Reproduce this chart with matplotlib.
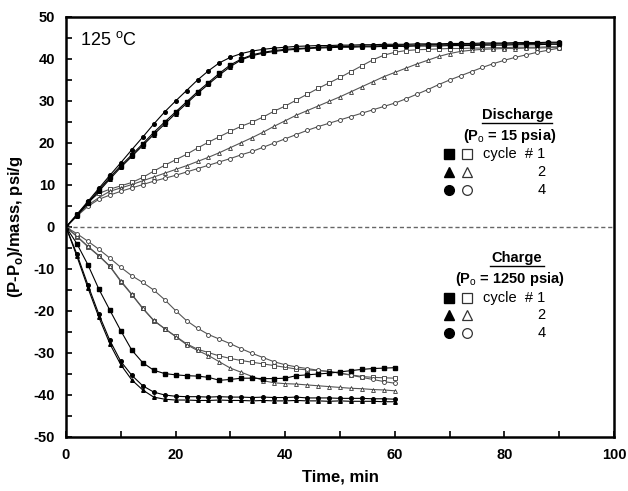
import numpy as np
import matplotlib
matplotlib.use("Agg")
import matplotlib.pyplot as plt

plt.rcParams['font.family'] = ['Liberation Sans', 'DejaVu Sans']
plt.rcParams['mathtext.fontset'] = 'custom'
plt.rcParams['mathtext.rm'] = 'Liberation Sans'
plt.rcParams['mathtext.bf'] = 'Liberation Sans:bold'
plt.rcParams['axes.unicode_minus'] = False

# time grids (min)
t_dis = np.arange(0, 91, 2)
t_chg = np.arange(0, 61, 2)

# discharge (P_o = 15 psia)
dis_fill_circle = [0, 3.0, 6.1, 9.2, 12.3, 15.3, 18.4, 21.4, 24.5, 27.4, 30.0, 32.5, 35.0, 37.2, 39.1, 40.4,
                   41.3, 41.9, 42.3, 42.6, 42.8, 43.0, 43.1, 43.2, 43.2, 43.3, 43.3, 43.4, 43.4, 43.5, 43.5,
                   43.5, 43.6, 43.6, 43.6, 43.7, 43.7, 43.7, 43.8, 43.8, 43.8, 43.9, 43.9, 43.9, 44.0, 44.0]
dis_fill_square = [0, 2.8, 5.8, 8.8, 11.8, 14.6, 17.2, 19.8, 22.5, 25.0, 27.4, 29.8, 32.2, 34.4, 36.6, 38.6,
                   40.0, 41.0, 41.6, 42.0, 42.3, 42.5, 42.6, 42.8, 42.9, 43.0, 43.0, 43.1, 43.1, 43.2, 43.2,
                   43.3, 43.3, 43.4, 43.4, 43.4, 43.5, 43.5, 43.5, 43.6, 43.6, 43.6, 43.7, 43.7, 43.8, 43.8]
dis_fill_tri = [0, 2.7, 5.6, 8.5, 11.4, 14.2, 16.8, 19.4, 22.0, 24.5, 27.0, 29.4, 31.8, 34.0, 36.2, 38.2,
                39.8, 40.8, 41.4, 41.8, 42.1, 42.3, 42.5, 42.6, 42.7, 42.8, 42.8, 42.9, 42.9, 43.0, 43.0,
                43.0, 43.1, 43.1, 43.1, 43.2, 43.2, 43.2, 43.3, 43.3, 43.3, 43.4, 43.4, 43.4, 43.5, 43.5]
dis_open_square = [0, 3.0, 6.0, 8.0, 9.0, 9.8, 10.6, 11.8, 13.3, 14.7, 16.0, 17.3, 18.8, 20.2, 21.5, 22.8,
                   24.0, 25.0, 26.2, 27.6, 28.8, 30.2, 31.6, 33.0, 34.3, 35.6, 37.0, 38.4, 39.8, 40.9, 41.6,
                   42.0, 42.2, 42.3, 42.4, 42.5, 42.5, 42.6, 42.6, 42.7, 42.7, 42.8, 42.8, 42.8, 42.9, 42.9]
dis_open_tri = [0, 2.8, 5.2, 7.0, 8.5, 9.3, 10.1, 11.0, 11.9, 12.8, 13.7, 14.6, 15.6, 16.6, 17.7, 18.9,
                20.1, 21.3, 22.6, 24.0, 25.3, 26.6, 27.7, 28.8, 29.9, 31.0, 32.2, 33.4, 34.6, 35.8, 36.8,
                37.8, 38.8, 39.7, 40.6, 41.3, 41.8, 42.1, 42.3, 42.4, 42.5, 42.5, 42.6, 42.6, 42.7, 42.7]
dis_open_circle = [0, 2.6, 4.9, 6.6, 7.6, 8.5, 9.3, 10.1, 10.9, 11.6, 12.3, 13.1, 13.9, 14.7, 15.5, 16.3,
                   17.2, 18.0, 19.0, 20.0, 21.0, 22.0, 23.0, 23.9, 24.7, 25.5, 26.3, 27.1, 27.9, 28.7, 29.5,
                   30.5, 31.6, 32.7, 33.9, 35.0, 36.0, 37.0, 38.0, 38.9, 39.7, 40.4, 41.0, 41.6, 42.1, 42.6]

# charge (P_o = 1250 psia)
chg_fill_tri = [0, -7.0, -14.5, -21.5, -27.8, -32.8, -36.4, -38.8, -40.5, -41.0, -41.2, -41.2, -41.3, -41.3,
                -41.2, -41.3, -41.3, -41.4, -41.3, -41.4, -41.4, -41.3, -41.4, -41.4, -41.5, -41.4, -41.5,
                -41.5, -41.5, -41.6, -41.6]
chg_fill_circle = [0, -6.5, -13.8, -20.8, -27.0, -32.0, -35.3, -37.8, -39.3, -40.0, -40.3, -40.4, -40.4, -40.5,
                   -40.4, -40.5, -40.5, -40.6, -40.5, -40.6, -40.6, -40.5, -40.7, -40.7, -40.7, -40.8, -40.8,
                   -40.8, -40.9, -40.9, -41.0]
chg_fill_square = [0, -4.0, -9.0, -14.8, -19.8, -24.7, -29.3, -32.3, -34.1, -34.9, -35.2, -35.4, -35.5, -35.8,
                   -36.5, -36.3, -36.0, -36.0, -36.1, -36.1, -36.0, -35.4, -35.2, -35.0, -34.8, -34.5, -34.2,
                   -33.9, -33.7, -33.6, -33.5]
chg_open_square = [0, -2.3, -4.7, -6.9, -9.4, -13.0, -16.1, -19.4, -22.3, -24.2, -26.0, -27.8, -29.1, -29.9,
                   -30.7, -31.3, -31.8, -32.2, -32.6, -33.0, -33.4, -33.8, -34.0, -34.2, -34.4, -34.8, -35.2,
                   -35.6, -35.8, -35.9, -36.0]
chg_open_tri = [0, -2.2, -4.6, -6.8, -9.3, -12.8, -16.0, -19.3, -22.2, -24.2, -26.1, -28.0, -29.4, -30.6,
                -32.1, -33.6, -34.6, -35.6, -36.6, -37.1, -37.3, -37.4, -37.6, -37.8, -38.0, -38.2, -38.4,
                -38.5, -38.7, -38.8, -39.0]
chg_open_circle = [0, -1.6, -3.4, -5.3, -7.4, -9.6, -11.6, -13.2, -15.0, -17.3, -19.9, -22.3, -24.1, -25.6,
                   -26.7, -27.8, -29.0, -30.1, -31.1, -32.1, -32.8, -33.3, -33.7, -34.1, -34.4, -34.8, -35.3,
                   -35.8, -36.3, -36.8, -37.2]

fig = plt.figure(figsize=(6.28, 4.91), dpi=100)
ax = fig.add_axes([66 / 628, 54 / 491, 548 / 628, 420 / 491])

filled = dict(color="black", lw=0.8, ms=2.6, mfc="black", mec="black")
hollow = dict(color="#555555", lw=0.8, ms=2.8, mfc="white", mec="#333333", mew=0.6)

for y, m in [(dis_open_square, "s"), (dis_open_tri, "^"), (dis_open_circle, "o")]:
    ax.plot(t_dis, y, marker=m, **hollow)
for y, m in [(dis_fill_circle, "o"), (dis_fill_square, "s"), (dis_fill_tri, "^")]:
    ax.plot(t_dis, y, marker=m, **filled)
for y, m in [(chg_open_square, "s"), (chg_open_tri, "^"), (chg_open_circle, "o")]:
    ax.plot(t_chg, y, marker=m, **hollow)
for y, m in [(chg_fill_tri, "^"), (chg_fill_circle, "o"), (chg_fill_square, "s")]:
    ax.plot(t_chg, y, marker=m, **filled)

ax.axhline(0, color="#666666", lw=1.0, ls=(0, (3, 2)))

ax.set_xlim(0, 100)
ax.set_ylim(-50, 50)
ax.set_xticks(np.arange(0, 101, 20))
ax.set_xticks(np.arange(0, 101, 10), minor=True)
ax.set_yticks(np.arange(-50, 51, 10))
ax.set_yticks(np.arange(-50, 51, 5), minor=True)
ax.tick_params(which="both", direction="in", length=4, width=1.2)
ax.tick_params(which="major", labelsize=10.5, pad=8)
for lab in ax.get_xticklabels() + ax.get_yticklabels():
    lab.set_fontweight("bold")
for s in ax.spines.values():
    s.set_linewidth(1.8)

ax.set_xlabel("Time, min", fontsize=12, fontweight="bold", labelpad=5)
ax.set_ylabel(r"(P-P$_{\mathbf{o}}$)/mass, psi/g", fontsize=12, fontweight="bold", labelpad=6)

ax.text(2.6, 44.5, r"125 $^{\mathrm{o}}$C", fontsize=13, va="center", ha="left")

# legend blocks
def legend_block(yc, title, sub, ul):
    ax.text(82.3, yc, title, fontsize=10.5, fontweight="bold", ha="center", va="center")
    ax.plot(ul, [yc - 1.9, yc - 1.9], color="black", lw=1.0)
    ax.text(81.0, yc - 5.0, sub, fontsize=10.5, fontweight="bold", ha="center", va="center")
    rows = [("s", "cycle  # 1"), ("^", "2"), ("o", "4")]
    for i, (m, lab) in enumerate(rows):
        yy = yc - 9.4 - 4.2 * i
        ax.plot([69.9], [yy], marker=m, ms=7, color="black", ls="none")
        ax.plot([73.2], [yy], marker=m, ms=7, mfc="white", mec="#333333", mew=0.9, ls="none")
        ax.text(87.5, yy, lab, fontsize=10.5, ha="right", va="center")

legend_block(26.7, "Discharge", r"(P$_\mathrm{o}$ = 15 psia)", [75.9, 88.7])
legend_block(-7.4, "Charge", r"(P$_\mathrm{o}$ = 1250 psia)", [77.4, 87.2])

fig.patch.set_facecolor("white")
fig.savefig("out.png", dpi=100, facecolor="white")
